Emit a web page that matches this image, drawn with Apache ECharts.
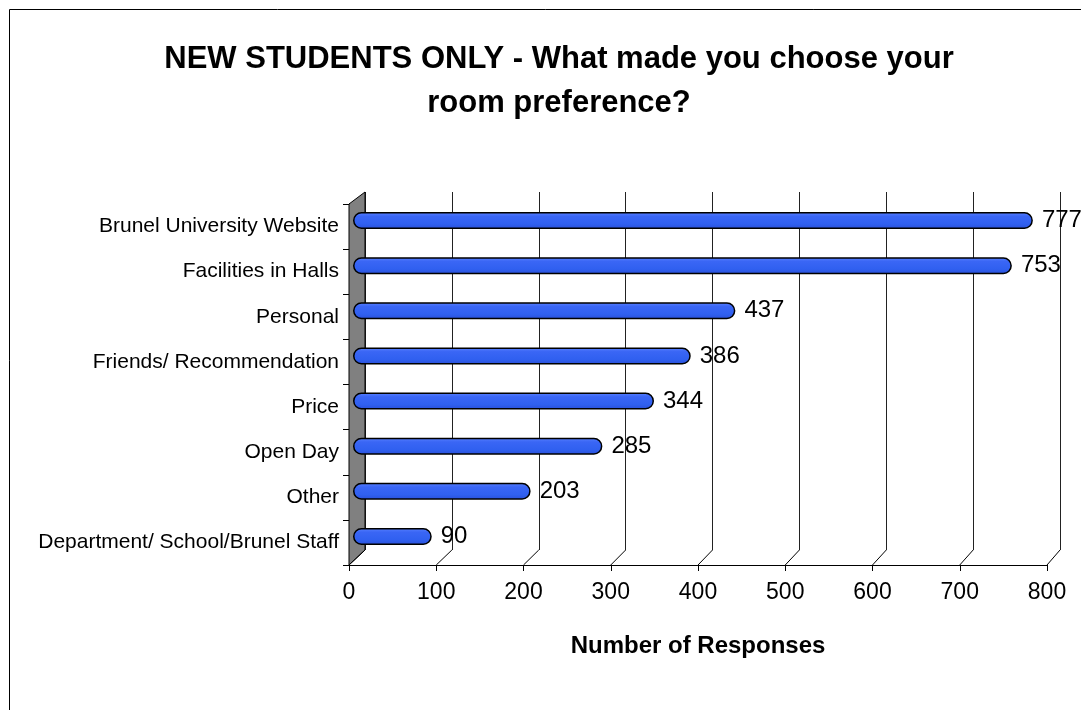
<!DOCTYPE html>
<html>
<head>
<meta charset="utf-8">
<script src="https://cdn.jsdelivr.net/npm/echarts@6/dist/echarts.min.js"></script>
<style>
html,body{margin:0;padding:0;background:#fff;}
#chart{width:1081px;height:710px;}
</style>
</head>
<body>
<div id="chart"></div>
<script>
const categories = [
  "Brunel University Website",
  "Facilities in Halls",
  "Personal",
  "Friends/ Recommendation",
  "Price",
  "Open Day",
  "Other",
  "Department/ School/Brunel Staff"
];
const responses = [777, 753, 437, 386, 344, 285, 203, 90];
const xTicks = [0, 100, 200, 300, 400, 500, 600, 700, 800];

const FONT = '"Liberation Sans", Arial, sans-serif';
// layout (front plane, back plane, bar plane)
const front = {left: 349, top: 204, width: 698, height: 361};
const back = {left: 365, top: 192, width: 695, height: 358};
const barP = {left: 353, top: 198, width: 700, height: 361};

const chart = echarts.init(document.getElementById('chart'), null, {renderer: 'canvas'});

const graphics = [
  {type: 'rect', shape: {x: 9.5, y: 9.5, width: 1200, height: 900},
   style: {fill: 'none', stroke: '#000', lineWidth: 1}, z: -10},
  // side wall
  {type: 'polygon', shape: {points: [
      [front.left, front.top], [back.left, back.top],
      [back.left, back.top + back.height], [front.left, front.top + front.height]]},
   style: {fill: '#808080', stroke: '#000', lineWidth: 1}, z: 1}
];
// floor diagonals from front ticks to back gridlines
xTicks.forEach(function (t) {
  const fx = front.left + front.width * t / 800;
  const bx = back.left + back.width * t / 800;
  graphics.push({type: 'line', shape: {x1: fx, y1: front.top + front.height, x2: bx, y2: back.top + back.height},
    style: {stroke: '#000', lineWidth: 1}, z: 1});
});

const option = {
  backgroundColor: '#fff',
  animation: false,
  title: {
    text: 'NEW STUDENTS ONLY - What made you choose your\nroom preference?',
    left: 554, top: 32, textAlign: 'center',
    textStyle: {fontFamily: FONT, fontSize: 31, fontWeight: 'bold', color: '#000', lineHeight: 44}
  },
  graphic: graphics,
  grid: [
    Object.assign({}, front),
    Object.assign({}, back),
    Object.assign({}, barP)
  ],
  xAxis: [
    {type: 'value', gridIndex: 0, min: 0, max: 800, interval: 100,
     name: 'Number of Responses', nameLocation: 'middle', nameGap: 69,
     nameTextStyle: {fontFamily: FONT, fontSize: 24, fontWeight: 'bold', color: '#000'},
     axisLine: {show: true, lineStyle: {color: '#000', width: 1}},
     axisTick: {show: true, length: 6, lineStyle: {color: '#000'}},
     axisLabel: {fontFamily: FONT, fontSize: 23, color: '#000', margin: 16},
     splitLine: {show: false}},
    {type: 'value', gridIndex: 1, min: 0, max: 800, interval: 100,
     axisLine: {show: false}, axisTick: {show: false}, axisLabel: {show: false},
     splitLine: {show: true, lineStyle: {color: '#222', width: 1}}},
    {type: 'value', gridIndex: 2, min: 0, max: 800, interval: 100,
     axisLine: {show: false}, axisTick: {show: false}, axisLabel: {show: false}, splitLine: {show: false}}
  ],
  yAxis: [
    {type: 'category', gridIndex: 0, data: categories, inverse: true,
     axisLine: {show: true, lineStyle: {color: '#000'}},
     axisTick: {show: true, length: 6, lineStyle: {color: '#000'}},
     axisLabel: {fontFamily: FONT, fontSize: 21, color: '#000', margin: 10}},
    {type: 'category', gridIndex: 1, data: categories, inverse: true,
     axisLine: {show: false}, axisTick: {show: false}, axisLabel: {show: false}},
    {type: 'category', gridIndex: 2, data: categories, inverse: true,
     axisLine: {show: false}, axisTick: {show: false}, axisLabel: {show: false}}
  ],
  series: [{
    type: 'bar', xAxisIndex: 2, yAxisIndex: 2, data: responses,
    barWidth: 17, z: 5,
    itemStyle: {
      color: new echarts.graphic.LinearGradient(0, 0, 0, 1, [
        {offset: 0, color: '#5a82ff'},
        {offset: 0.25, color: '#3a66f5'},
        {offset: 0.7, color: '#3060f0'},
        {offset: 1, color: '#2a50d8'}
      ]),
      borderColor: '#000', borderWidth: 1.5, borderRadius: 8
    },
    label: {show: true, position: 'right', distance: 9,
      fontFamily: FONT, fontSize: 24, color: '#000'}
  }]
};
chart.setOption(option);
</script>
</body>
</html>
